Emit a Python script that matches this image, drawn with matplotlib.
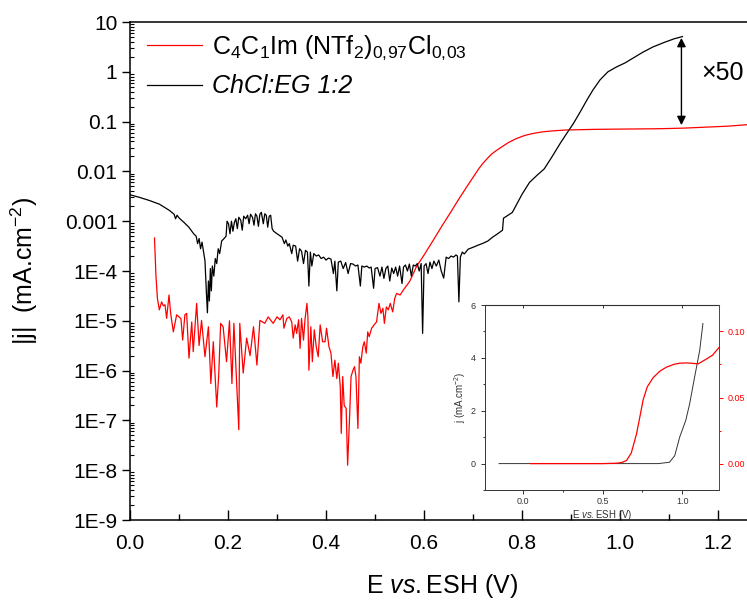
import numpy as np
import matplotlib
matplotlib.use('Agg')
import matplotlib.pyplot as plt
from matplotlib.ticker import LogLocator, NullFormatter, MultipleLocator

plt.rcParams['font.family'] = ['Liberation Sans', 'DejaVu Sans']
plt.rcParams['mathtext.fontset'] = 'custom'
plt.rcParams['mathtext.rm'] = 'Liberation Sans'
plt.rcParams['mathtext.it'] = 'Liberation Sans:italic'
plt.rcParams['mathtext.bf'] = 'Liberation Sans:bold'

# ---------------- data (main, log plot) ----------------
E_des = [0.000, 0.020, 0.040, 0.060, 0.080, 0.090, 0.093, 0.096, 0.100, 0.105, 0.110, 0.120, 0.130, 0.135,
         0.138, 0.141, 0.144, 0.147, 0.150, 0.153, 0.156, 0.158, 0.160, 0.162, 0.164, 0.166, 0.168, 0.171,
         0.174, 0.177, 0.180, 0.183, 0.187, 0.192, 0.196, 0.198, 0.201, 0.204, 0.207, 0.210, 0.213, 0.216,
         0.219, 0.222, 0.226, 0.229, 0.232, 0.236, 0.240, 0.243, 0.246, 0.250, 0.253, 0.256, 0.259, 0.262,
         0.265, 0.268, 0.272, 0.275, 0.278, 0.281, 0.284, 0.287, 0.290, 0.293, 0.300, 0.310, 0.315, 0.318,
         0.322, 0.325, 0.330, 0.333, 0.338, 0.342, 0.346, 0.350, 0.354, 0.358, 0.362, 0.365, 0.368, 0.371,
         0.375, 0.380, 0.385, 0.390, 0.395, 0.400, 0.405, 0.410, 0.415, 0.418, 0.422, 0.425, 0.430, 0.435,
         0.440, 0.445, 0.450, 0.455, 0.460, 0.465, 0.470, 0.473, 0.478, 0.483, 0.488, 0.492, 0.497, 0.500,
         0.505, 0.510, 0.514, 0.518, 0.522, 0.526, 0.530, 0.534, 0.538, 0.542, 0.546, 0.550, 0.555, 0.558,
         0.562, 0.566, 0.570, 0.574, 0.578, 0.582, 0.586, 0.590, 0.594, 0.597, 0.600, 0.604, 0.608, 0.612,
         0.616, 0.620, 0.625, 0.630, 0.635, 0.640, 0.645, 0.650, 0.655, 0.660, 0.665, 0.668, 0.671, 0.674,
         0.678, 0.682, 0.690, 0.700, 0.710, 0.720, 0.730, 0.740, 0.750, 0.760, 0.762, 0.780, 0.800, 0.815,
         0.830, 0.845, 0.860, 0.878, 0.890, 0.905, 0.920, 0.932, 0.945, 0.959, 0.975, 0.993, 1.010, 1.027,
         1.047, 1.067, 1.090, 1.110, 1.127]
j_des = [3.4e-3, 3.0e-3, 2.6e-3, 2.2e-3, 1.66e-3, 1.38e-3, 1.12e-3, 1.32e-3, 1.17e-3, 1.05e-3, 9.5e-4, 7.6e-4,
         5.6e-4, 5.0e-4, 3.55e-4, 4.5e-4, 2.8e-4, 3.8e-4, 2.5e-4, 1.6e-4, 3.5e-5, 1.45e-5, 6.3e-5, 2.5e-5,
         1.12e-4, 4.0e-5, 1.26e-4, 7.9e-5, 1.78e-4, 1.41e-4, 2.8e-4, 2.24e-4, 4.0e-4, 4.5e-4, 5.0e-4, 1.0e-3,
         8.9e-4, 5.6e-4, 1.0e-3, 6.3e-4, 9.5e-4, 1.12e-3, 7.1e-4, 1.2e-3, 1.05e-3, 6.6e-4, 1.26e-3, 1.12e-3,
         1.32e-3, 8.9e-4, 1.38e-3, 1.2e-3, 8.3e-4, 1.41e-3, 1.26e-3, 7.9e-4, 1.38e-3, 1.51e-3, 8.9e-4, 1.41e-3,
         1.32e-3, 7.6e-4, 1.26e-3, 1.32e-3, 7.1e-4, 6.3e-4, 5.6e-4, 4.8e-4, 3.55e-4, 4.2e-4, 3.16e-4, 3.55e-4,
         2.24e-4, 3.3e-4, 3.16e-4, 1.58e-4, 2.8e-4, 2.5e-4, 1.41e-4, 2.6e-4, 2.4e-4, 5.0e-5, 2.4e-4, 1.26e-4,
         2.24e-4, 2.0e-4, 2.1e-4, 1.78e-4, 1.9e-4, 1.66e-4, 1.82e-4, 1.74e-4, 8.9e-5, 1.58e-4, 4.0e-5, 1.51e-4,
         1.58e-4, 1.12e-4, 1.48e-4, 8.9e-5, 1.41e-4, 1.38e-4, 1.26e-4, 1.32e-4, 5.0e-5, 1.26e-4, 1.2e-4,
         1.26e-4, 1.15e-4, 1.2e-4, 4.5e-5, 1.12e-4, 1.17e-4, 7.9e-5, 1.2e-4, 7.1e-5, 1.12e-4, 1.26e-4, 6.3e-5,
         1.15e-4, 8.9e-5, 1.2e-4, 7.9e-5, 1.26e-4, 5.6e-5, 1.2e-4, 1.32e-4, 1.0e-4, 1.38e-4, 7.9e-5, 1.32e-4,
         1.26e-4, 1.41e-4, 1.0e-4, 1.41e-4, 5.6e-6, 1.26e-4, 1.41e-4, 8.9e-5, 1.51e-4, 1.12e-4, 1.58e-4,
         1.26e-4, 1.66e-4, 1.0e-4, 7.2e-5, 1.9e-4, 1.78e-4, 2.0e-4, 1.9e-4, 2.1e-4, 2.0e-4, 2.4e-5, 1.9e-4,
         2.4e-4, 2.2e-4, 2.75e-4, 3.0e-4, 3.3e-4, 3.6e-4, 4.0e-4, 4.8e-4, 5.6e-4, 6.6e-4, 1.15e-3, 1.5e-3,
         3.5e-3, 6.0e-3, 8.3e-3, 1.12e-2, 1.9e-2, 3.7e-2, 5.6e-2, 9.3e-2, 0.166, 0.27, 0.44, 0.69, 1.0, 1.26,
         1.51, 1.9, 2.5, 3.16, 3.9, 4.6, 5.1]

E_il = [0.0500, 0.0530, 0.0560, 0.0599, 0.0646, 0.0680, 0.0714, 0.0748, 0.0796, 0.0830, 0.0884, 0.0952,
        0.1000, 0.1040, 0.1075, 0.1120, 0.1156, 0.1204, 0.1260, 0.1290, 0.1360, 0.1410, 0.1460, 0.1530,
        0.1600, 0.1650, 0.1700, 0.1730, 0.1770, 0.1810, 0.1850, 0.1900, 0.1970, 0.2030, 0.2080, 0.2120,
        0.2220, 0.2240, 0.2310, 0.2380, 0.2450, 0.2520, 0.2590, 0.2650, 0.2750, 0.2820, 0.2920, 0.3000,
        0.306, 0.312, 0.314, 0.320, 0.325, 0.330, 0.333, 0.337, 0.340, 0.344, 0.347, 0.350, 0.354, 0.357,
        0.361, 0.363, 0.365, 0.369, 0.372, 0.376, 0.380, 0.384, 0.388, 0.393, 0.398, 0.401, 0.406, 0.410,
        0.414, 0.418, 0.422, 0.425, 0.429, 0.431, 0.434, 0.437, 0.441, 0.444, 0.448, 0.451, 0.455, 0.458,
        0.461, 0.465, 0.468, 0.471, 0.475, 0.478, 0.482, 0.485, 0.488, 0.493, 0.498, 0.503, 0.508, 0.512,
        0.516, 0.519, 0.523, 0.527, 0.531, 0.536, 0.540, 0.544, 0.551, 0.558, 0.565, 0.571, 0.578, 0.585,
        0.600, 0.619, 0.636, 0.653, 0.670, 0.687, 0.703, 0.712, 0.720, 0.729, 0.737, 0.746, 0.755, 0.772,
        0.789, 0.806, 0.823, 0.840, 0.860, 0.891, 0.950, 1.027, 1.080, 1.129, 1.180, 1.220, 1.274]
j_il = [4.6e-4, 7.9e-5, 2.8e-5, 1.66e-5, 2.4e-5, 2.0e-5, 2.1e-5, 1.12e-5, 3.3e-5, 1.41e-5, 6.0e-6, 1.32e-5,
        1.2e-5, 1.1e-5, 4.1e-6, 1.32e-5, 1.41e-5, 1.78e-6, 9.5e-6, 2.4e-6, 2.24e-5, 3.2e-6, 1.02e-5, 1.9e-6,
        7.6e-6, 5.5e-7, 3.8e-6, 1.02e-6, 1.86e-7, 8.1e-7, 8.9e-6, 7.6e-6, 1.51e-6, 1.0e-5, 5.5e-7, 8.9e-6,
        6.5e-8, 8.9e-6, 8.9e-7, 4.5e-6, 2.0e-6, 7.6e-6, 1.29e-6, 1.02e-5, 8.9e-6, 1.2e-5, 8.9e-6, 1.2e-5,
        1.05e-5, 1.32e-5, 7.1e-6, 1.12e-5, 1.2e-5, 9.5e-6, 4.5e-6, 8.3e-6, 5.6e-6, 1.05e-5, 2.8e-6, 1.12e-5,
        4.1e-6, 1.05e-5, 2.24e-5, 1.2e-5, 1.02e-6, 7.6e-6, 1.51e-6, 6.6e-6, 3.0e-6, 1.9e-6, 8.3e-6, 3.8e-6,
        3.8e-6, 7.1e-6, 3.0e-6, 2.24e-6, 7.6e-7, 1.62e-6, 6.9e-7, 1.41e-6, 4.8e-7, 5.5e-8, 7.6e-7, 2.0e-7,
        1.74e-7, 1.26e-8, 1.17e-7, 7.6e-7, 1.02e-6, 1.2e-6, 7.6e-7, 6.9e-8, 1.9e-6, 1.41e-6, 3.0e-6, 3.8e-6,
        2.24e-6, 6.0e-6, 4.8e-6, 7.1e-6, 8.3e-6, 9.5e-6, 2.24e-5, 1.41e-5, 1.78e-5, 8.9e-6, 1.9e-5, 1.66e-5,
        2.24e-5, 1.51e-5, 2.8e-5, 3.55e-5, 3.3e-5, 4.2e-5, 5.2e-5, 6.3e-5, 8.9e-5, 1.26e-4, 2.1e-4, 4.2e-4,
        7.9e-4, 1.45e-3, 2.7e-3, 4.9e-3, 8.5e-3, 1.15e-2, 1.45e-2, 1.82e-2, 2.2e-2, 2.57e-2, 2.95e-2, 3.8e-2,
        4.6e-2, 5.3e-2, 5.8e-2, 6.2e-2, 6.5e-2, 6.8e-2, 7.0e-2, 7.1e-2, 7.2e-2, 7.4e-2, 7.8e-2, 8.1e-2, 8.9e-2]

y_ticks = [1e-9, 1e-8, 1e-7, 1e-6, 1e-5, 1e-4, 1e-3, 1e-2, 1e-1, 1, 10]
y_tick_labels = ['1E-9', '1E-8', '1E-7', '1E-6', '1E-5', '1E-4', '0.001', '0.01', '0.1', '1', '10']
x_ticks = [0.0, 0.2, 0.4, 0.6, 0.8, 1.0, 1.2]
x_tick_labels = ['0.0', '0.2', '0.4', '0.6', '0.8', '1.0', '1.2']

# ---------------- data (inset, linear) ----------------
E_ins_des = [-0.15, 0.0, 0.5, 0.85, 0.92, 0.953, 0.984, 1.022, 1.047, 1.078, 1.11, 1.13]
j_ins_des = [0.0, 0.0, 0.0, 0.0, 0.05, 0.3, 1.0, 1.63, 2.27, 3.28, 4.29, 5.3]
E_ins_il = [0.048, 0.5, 0.59, 0.62, 0.65, 0.68, 0.713, 0.735, 0.754, 0.78, 0.817, 0.86, 0.901, 0.95,
            0.985, 1.03, 1.07, 1.10, 1.15, 1.19, 1.23]
j_ins_il = [0.0, 0.0, 0.0003, 0.0008, 0.0023, 0.008, 0.0225, 0.036, 0.048, 0.058, 0.065, 0.070, 0.073,
            0.0752, 0.076, 0.0762, 0.0758, 0.0755, 0.079, 0.082, 0.0877]

label_il = r'C$_4$C$_1$Im (NTf$_2$)$_{0,\!97}$Cl$_{0,\!03}$'
label_des = 'ChCl:EG 1:2'

# ---------------- figure ----------------
fig = plt.figure(figsize=(7.47, 6.0), dpi=100)
ax = fig.add_axes([0.174, 0.1333, 0.836, 0.83])

l1, = ax.plot(E_il, j_il, color='red', lw=0.9, label=label_il)
l2, = ax.plot(E_des, j_des, color='black', lw=0.9, label=label_des)
ax.set_yscale('log')
ax.set_xlim(0, 1.274)
ax.set_ylim(1e-9, 10)

ax.set_yticks(y_ticks)
ax.set_yticklabels(y_tick_labels)
ax.yaxis.set_minor_locator(LogLocator(base=10, subs=np.arange(2, 10), numticks=100))
ax.yaxis.set_minor_formatter(NullFormatter())
ax.set_xticks(x_ticks)
ax.set_xticklabels(x_tick_labels)
ax.xaxis.set_minor_locator(MultipleLocator(0.1))

ax.tick_params(axis='x', which='major', direction='in', length=7, width=1, labelsize=15, pad=10, top=False)
ax.tick_params(axis='x', which='minor', direction='in', length=4, width=1, top=False)
ax.tick_params(axis='y', which='major', direction='out', length=6, width=1, labelsize=15, pad=3, right=False)
ax.tick_params(axis='y', which='minor', direction='in', length=3, width=0.8, right=False)
for s in ax.spines.values():
    s.set_linewidth(1.1)

ax.set_xlabel(r'E $\mathit{vs.}$ESH (V)', fontsize=18, labelpad=14)
ax.set_ylabel(r'|j|  (mA.cm$^{-2}$)', fontsize=18, labelpad=18)

leg = ax.legend(handles=[l1, l2], loc='upper left', bbox_to_anchor=(0.012, 0.997), frameon=False,
                fontsize=18, handlelength=2.2, handletextpad=0.4, labelspacing=0.5, borderaxespad=0)
leg.get_texts()[1].set_fontstyle('italic')

ax.annotate('', xy=(1.125, 0.085), xytext=(1.125, 4.8),
            arrowprops=dict(arrowstyle='<|-|>', color='black', lw=1, mutation_scale=13,
                            shrinkA=0, shrinkB=0))
ax.text(1.165, 0.95, '\u00d750', fontsize=18, va='center', ha='left')

# ---------------- inset ----------------
ins = fig.add_axes([0.649, 0.1833, 0.3133, 0.3083])
ins.plot(E_ins_des, j_ins_des, color='#333333', lw=0.7)
ins.set_xlim(-0.24, 1.23)
ins.set_ylim(-1, 6)
ins.set_xticks([0.0, 0.5, 1.0])
ins.set_xticklabels(['0.0', '0.5', '1.0'])
ins.xaxis.set_minor_locator(MultipleLocator(0.25))
ins.set_yticks([0, 2, 4, 6])
ins.yaxis.set_minor_locator(MultipleLocator(1))
ins.tick_params(which='both', direction='out', labelsize=6.5, labelcolor='#333333', color='#333333', width=0.7)
ins.tick_params(which='major', length=3)
ins.tick_params(which='minor', length=1.5)
ins.tick_params(axis='x', pad=2)
for s in ins.spines.values():
    s.set_linewidth(0.7)
    s.set_color('#333333')
ins.set_xlabel(r'E $\mathit{vs.}$ESH (V)', fontsize=7, color='#333333', labelpad=1.5)
ins.set_ylabel(r'j (mA.cm$^{-2}$)', fontsize=7, color='#333333', labelpad=2)
sec = ins.secondary_xaxis('top')
sec.set_xticks([0.0, 0.5, 1.0])
sec.tick_params(direction='in', length=2.5, width=0.7, labeltop=False, color='#333333')

ins2 = ins.twinx()
ins2.plot(E_ins_il, j_ins_il, color='red', lw=0.9)
ins2.set_ylim(-0.02, 0.12)
ins2.set_yticks([0.0, 0.05, 0.10])
ins2.set_yticklabels(['0.00', '0.05', '0.10'])
ins2.yaxis.set_minor_locator(MultipleLocator(0.025))
ins2.tick_params(which='both', direction='out', labelsize=6.5, labelcolor='red', color='red', width=0.7)
ins2.tick_params(which='major', length=3)
ins2.tick_params(which='minor', length=1.5)
ins2.spines['right'].set_color('red')
ins2.spines['right'].set_linewidth(0.7)
for k in ['left', 'top', 'bottom']:
    ins2.spines[k].set_visible(False)

fig.savefig('out.png', dpi=100)
